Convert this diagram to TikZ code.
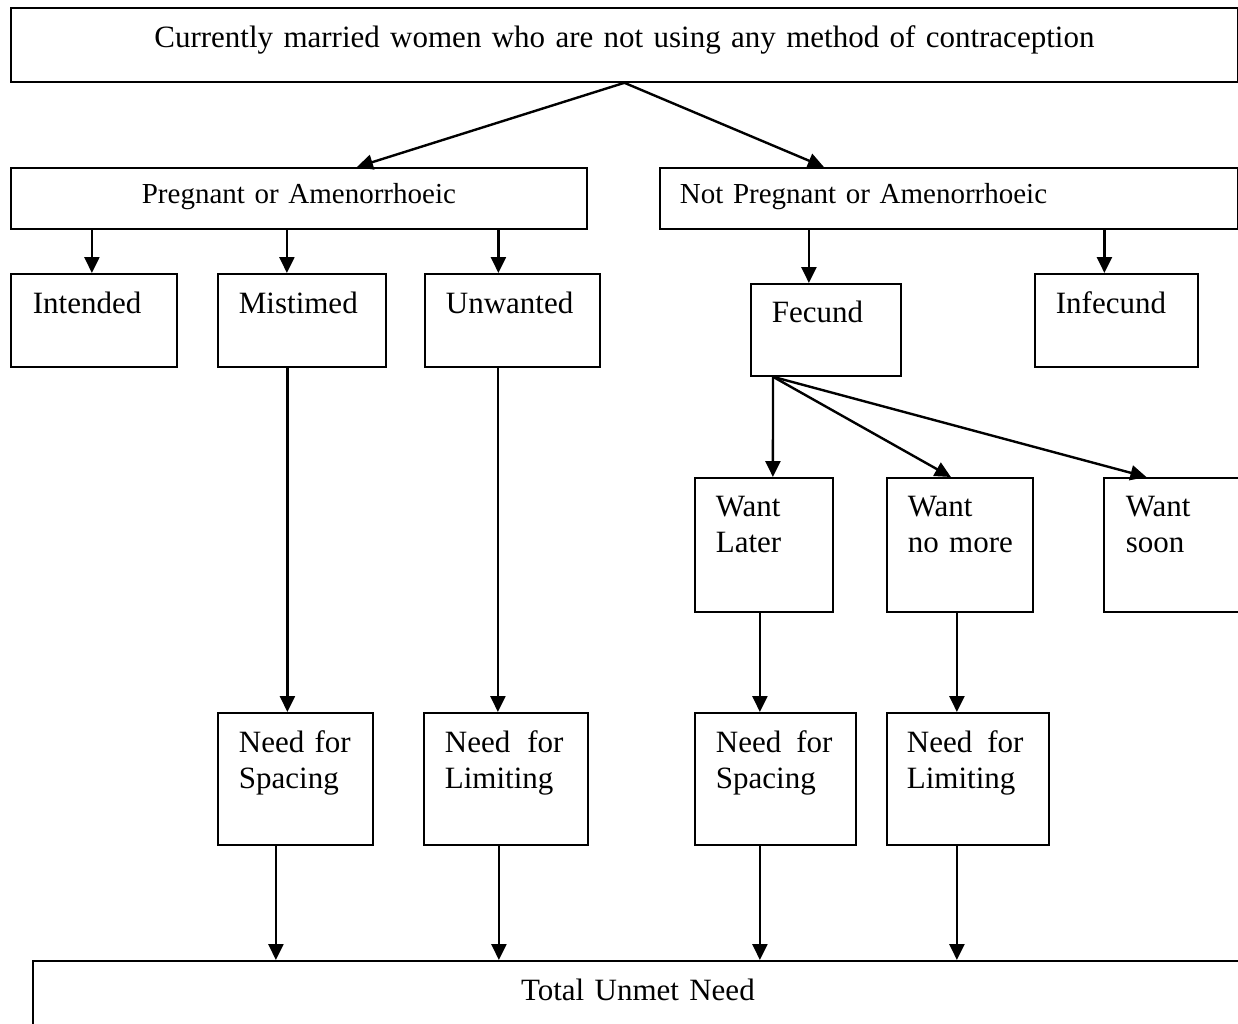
\documentclass[tikz,border=0pt]{standalone}
\usepackage{fontspec}
\setmainfont{Liberation Serif}
\usetikzlibrary{arrows.meta,positioning}

\begin{document}
\begin{tikzpicture}[x=1pt,y=-1pt,
    box/.style={draw, line width=1.8pt, anchor=north west, inner ysep=0pt,
      text height=40pt, align=left, font=\fontsize{31}{36}\selectfont},
    arr/.style={line width=2.4pt, -{Triangle[length=16pt,width=15pt]}}]
    \clip (0,0) rectangle (1238,1023);
    %
    \node[box, align=center, inner xsep=10pt, text width=1207pt, text depth=34pt,
      font=\fontsize{31}{36}\selectfont] (top) at (10,7)
      {Currently married women who are not using any method of contraception};

    % second row
    \node[box, align=center, inner xsep=10pt, text width=556pt, text height=36pt,
      text depth=25pt, font=\fontsize{29}{36}\selectfont] (preg) at (10,167)
      {Pregnant or Amenorrhoeic};
    \node[box, inner xsep=20pt, text width=538pt, text height=36pt, text depth=25pt,
      font=\fontsize{29}{36}\selectfont] (notpreg) at (659,167)
      {Not Pregnant or Amenorrhoeic};

    % third row
    \node[box, inner xsep=22pt, text width=122pt, text depth=53pt] (intended) at (10,273) {Intended};
    \node[box, inner xsep=21pt, text width=126pt, text depth=53pt] (mistimed) at (217,273) {Mistimed};
    \node[box, inner xsep=21pt, text width=133pt, text depth=53pt] (unwanted) at (424,273) {Unwanted};
    \node[box, inner xsep=21pt, text width=108pt, text height=39pt, text depth=53pt] (fecund) at (750,283) {Fecund};
    \node[box, inner xsep=21pt, text width=121pt, text depth=53pt] (infecund) at (1034,273) {Infecund};

    % desire for children
    \node[box, inner xsep=21pt, text width=96pt, text height=39pt, text depth=95pt] (wantlater) at (694,477) {Want\\Later};
    \node[box, inner xsep=21pt, text width=104pt, text height=39pt, text depth=95pt] (wantnomore) at (886,477) {Want\\no~more};
    \node[box, inner xsep=22pt, text width=91pt, text height=39pt, text depth=95pt] (wantsoon) at (1103,477) {Want\\soon};

    % unmet need
    \node[box, inner xsep=21pt, text width=113pt, text depth=92pt] (need1) at (217,712) {Need~for\\Spacing};
    \node[box, inner xsep=21pt, text width=122pt, text depth=92pt] (need2) at (423,712) {\mbox{Need\hspace{17pt}for}\\Limiting};
    \node[box, inner xsep=21pt, text width=119pt, text depth=92pt] (need3) at (694,712) {\mbox{Need\hspace{15pt}for}\\Spacing};
    \node[box, inner xsep=20pt, text width=122pt, text depth=92pt] (need4) at (886,712) {\mbox{Need\hspace{15pt}for}\\Limiting};

    \node[box, align=center, inner xsep=10pt, text width=1190pt, text depth=50pt] (total) at (32,960) {Total Unmet Need};

    % Arrows
    \draw[arr] (top.south) -- ([xshift=58pt]preg.north);
    \draw[arr] (top.south) -- ([xshift=-125pt]notpreg.north);

    \draw[arr] ([xshift=-2pt]intended.north |- preg.south) -- ([xshift=-2pt]intended.north);
    \draw[arr] ([xshift=-15pt]mistimed.north |- preg.south) -- ([xshift=-15pt]mistimed.north);
    \draw[arr] ([xshift=-14pt]unwanted.north |- preg.south) -- ([xshift=-14pt]unwanted.north);
    \draw[arr] ([xshift=-17pt]fecund.north |- notpreg.south) -- ([xshift=-17pt]fecund.north);
    \draw[arr] ([xshift=-12pt]infecund.north |- notpreg.south) -- ([xshift=-12pt]infecund.north);

    \draw[arr] ([xshift=23pt]fecund.south west) -- ([xshift=9pt]wantlater.north);
    \draw[arr] ([xshift=23pt]fecund.south west) -- ([xshift=-9pt]wantnomore.north);
    \draw[arr] ([xshift=23pt]fecund.south west) -- ([xshift=-25pt]wantsoon.north);

    \draw[arr] ([xshift=-8pt]need1.north |- mistimed.south) -- ([xshift=-8pt]need1.north);
    \draw[arr] ([xshift=-8pt]need2.north |- unwanted.south) -- ([xshift=-8pt]need2.north);
    \draw[arr] ([xshift=-15.5pt]need3.north |- wantlater.south) -- ([xshift=-15.5pt]need3.north);
    \draw[arr] ([xshift=-11pt]need4.north |- wantnomore.south) -- ([xshift=-11pt]need4.north);

    \draw[arr] ([xshift=-19.5pt]need1.south) -- ([xshift=-19.5pt]need1.south |- total.north);
    \draw[arr] ([xshift=-7pt]need2.south) -- ([xshift=-7pt]need2.south |- total.north);
    \draw[arr] ([xshift=-15.5pt]need3.south) -- ([xshift=-15.5pt]need3.south |- total.north);
    \draw[arr] ([xshift=-11pt]need4.south) -- ([xshift=-11pt]need4.south |- total.north);
\end{tikzpicture}
\end{document}
